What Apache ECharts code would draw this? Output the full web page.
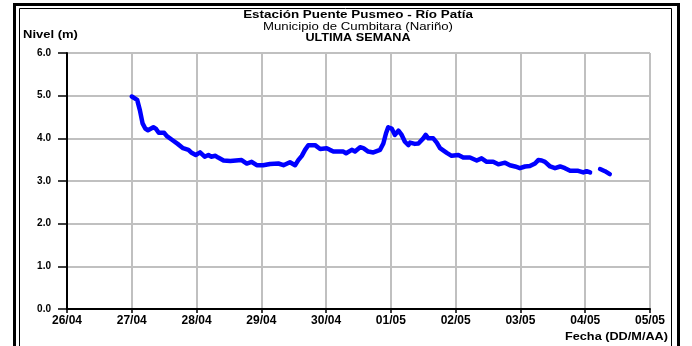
<!DOCTYPE html>
<html>
<head>
<meta charset="utf-8">
<script src="https://cdn.jsdelivr.net/npm/echarts@6/dist/echarts.min.js"></script>
<style>
  html, body { margin: 0; padding: 0; background: #fff; }
  #chart { width: 692px; height: 346px; }
</style>
</head>
<body>
<div id="chart"></div>
<script>
// Hours counted from 26/04 00:00; null marks the missing readings
const hours = [24, 26, 27, 28, 29, 30, 32, 33, 34, 36, 37, 39, 41, 43, 45, 46, 47.7, 49.3, 51, 52.4, 53.4, 55, 56, 58, 60.5, 61,
  64.7, 66.6, 68.4, 70.3, 72.7, 75.2, 78.3, 80.2, 82.6, 84.5, 85.7, 87, 88.2, 89.4, 91.9, 93.8, 96.2, 97.4, 98.7, 99.9,
  102.4, 103.4, 105.5, 106.7, 108.6, 109.8, 111.6, 113.5, 116, 117.2, 118.2, 119, 120.3, 121.5, 122.8, 124, 125.2, 126.5,
  127.1, 128.9, 130.2, 132, 132.9, 133.9, 135.7, 137, 138.2, 138.8, 140.7, 142.5, 145, 146.8, 149.3, 151.8, 153.6, 155.5,
  157.9, 159.8, 162.3, 164.1, 166, 167.8, 169.7, 171.5, 173.4, 174.6, 175.9, 177.1, 179, 180.8, 182.7, 184.5, 186.4,
  189.4, 191.3, 192.5, 193.8, 195.6, 197.5, 199.3, 201.1];
const nivel = [4.98, 4.90, 4.66, 4.35, 4.23, 4.19, 4.26, 4.22, 4.13, 4.13, 4.05, 3.96, 3.87, 3.77, 3.73, 3.67, 3.61, 3.67, 3.57, 3.61, 3.57, 3.59, 3.55, 3.48, 3.47, 3.48,
  3.49, 3.41, 3.45, 3.37, 3.37, 3.40, 3.41, 3.37, 3.44, 3.37, 3.49, 3.59, 3.73, 3.84, 3.84, 3.75, 3.77, 3.73, 3.69, 3.69,
  3.69, 3.65, 3.73, 3.69, 3.79, 3.77, 3.69, 3.67, 3.73, 3.88, 4.12, 4.26, 4.23, 4.08, 4.18, 4.08, 3.92, 3.84,
  3.90, 3.87, 3.88, 4.00, 4.08, 4.00, 4.00, 3.90, 3.77, 3.73, 3.66, 3.59, 3.61, 3.55, 3.55, 3.48, 3.53, 3.45,
  3.45, 3.39, 3.43, 3.37, 3.34, 3.30, 3.34, 3.35, 3.41, 3.49, 3.48, 3.45, 3.34, 3.30, 3.34, 3.30, 3.24,
  3.24, 3.20, 3.23, 3.20, null, 3.28, 3.23, 3.16];
const dateLabels = ['26/04', '27/04', '28/04', '29/04', '30/04', '01/05', '02/05', '03/05', '04/05', '05/05'];

const titleLines = ['Estación Puente Pusmeo - Río Patía', 'Municipio de Cumbitara (Nariño)', 'ULTIMA SEMANA'];

const chart = echarts.init(document.getElementById('chart'), null, { renderer: 'canvas' });
const font = 'Liberation Sans, Arial, sans-serif';

// wide-set text, as in the station report sheets
function label(x, y, text, weight, size, align, sx) {
  return {
    type: 'text', x: x, y: y, scaleX: sx,
    style: { text: text, font: weight + ' ' + size + 'px ' + font, fill: '#000', align: align, verticalAlign: 'middle' }
  };
}

chart.setOption({
  animation: false,
  backgroundColor: '#fff',
  grid: { left: 67, right: 42, top: 53, bottom: 37 },
  xAxis: {
    type: 'value', min: 0, max: 216, interval: 24,
    axisLine: { lineStyle: { color: '#000', width: 2 } },
    axisTick: { show: true, length: 4, lineStyle: { color: '#000', width: 1.5 } },
    splitLine: { show: true, lineStyle: { color: '#c0c0c0', width: 2 } },
    axisLabel: {
      margin: 6, color: '#000', fontFamily: font, fontWeight: 'bold', fontSize: 12,
      formatter: v => dateLabels[Math.round(v / 24)]
    }
  },
  yAxis: {
    type: 'value', min: 0, max: 6, interval: 1,
    axisLine: { show: true, lineStyle: { color: '#000', width: 2 } },
    axisTick: { show: true, length: 9, lineStyle: { color: '#000', width: 1.5 } },
    splitLine: { show: true, lineStyle: { color: '#c0c0c0', width: 2 } },
    axisLabel: {
      margin: 16, color: '#000', fontFamily: font, fontWeight: 'bold', fontSize: 10,
      formatter: v => v.toFixed(1)
    }
  },
  series: [{
    type: 'line',
    data: hours.map((h, i) => [h, nivel[i]]),
    showSymbol: false,
    connectNulls: false,
    lineStyle: { color: '#0000ff', width: 4.5, join: 'round', cap: 'round' },
    itemStyle: { color: '#0000ff' }
  }],
  graphic: [
    { type: 'rect', shape: { x: 14.5, y: 4.5, width: 664, height: 360 }, style: { fill: 'none', stroke: '#000', lineWidth: 3 } },
    { type: 'rect', shape: { x: 19.5, y: 8.5, width: 652, height: 350 }, style: { fill: 'none', stroke: '#000', lineWidth: 1 } },
    label(358, 15, titleLines[0], 'bold', 11, 'center', 1.22),
    label(358, 27, titleLines[1], 'normal', 11, 'center', 1.2),
    label(358, 38, titleLines[2], 'bold', 11, 'center', 1.15),
    label(23, 35, 'Nivel (m)', 'bold', 10, 'left', 1.3),
    label(668, 337, 'Fecha (DD/M/AA)', 'bold', 10, 'right', 1.27)
  ]
});
</script>
</body>
</html>
